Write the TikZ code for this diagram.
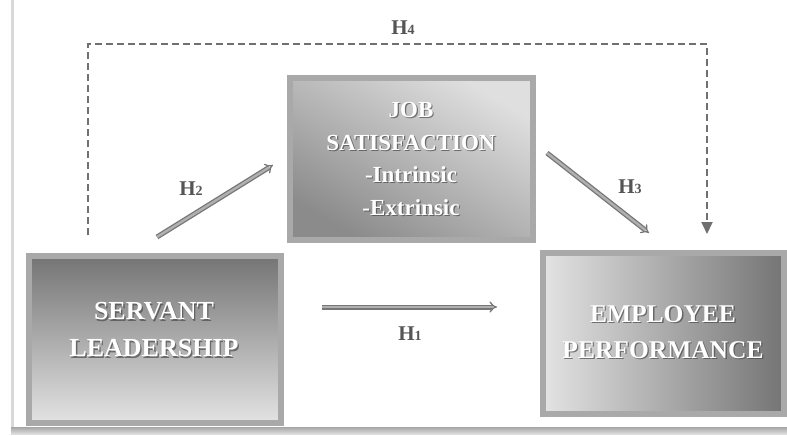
\documentclass[tikz,border=0pt]{standalone}
\usepackage{fontspec}
\setmainfont{Liberation Serif}
\usetikzlibrary{arrows.meta,calc}
\definecolor{bandgray}{HTML}{A9A9A9}
\definecolor{labgray}{HTML}{555555}
\definecolor{dashgray}{HTML}{707070}
\definecolor{arrowout}{HTML}{777777}
\definecolor{arrowin}{HTML}{B0B0B0}
\definecolor{shadowgray}{HTML}{4A4A4A}
\tikzset{
  box/.style={draw=bandgray, line width=6pt, inner sep=0pt},
  whitetxt/.style={text=white, align=center, inner sep=0pt},
  shadowtxt/.style={text=shadowgray, align=center, inner sep=0pt, opacity=0.7},
  bigfont/.style={font=\bfseries\fontsize{26}{37}\selectfont},
  epfont/.style={font=\bfseries\fontsize{25.5}{36}\selectfont},
  jsfont/.style={font=\bfseries\fontsize{23}{32.5}\selectfont},
  hyparrow/.style={draw=arrowout, line width=1.3pt, double=arrowin, double distance=2.4pt, -{Implies}},
  hyplab/.style={text=labgray, font=\bfseries\fontsize{21}{21}\selectfont, anchor=base, inner sep=0pt},
  dasharrow/.style={draw=dashgray, line width=2pt, dash pattern=on 7pt off 4pt, -{Triangle[width=11pt,length=12pt,fill=dashgray]}}
}
\newcommand{\hsub}[1]{H{\fontsize{14}{14}\selectfont #1}}
\begin{document}
\begin{tikzpicture}[x=1pt,y=-1pt]
\useasboundingbox (0,0) rectangle (787,436);
% page shadow
\fill[gray!30] (11,0) rectangle (14,432);
\shade[top color=gray!70, bottom color=gray!25] (11,427) rectangle (787,434);
\fill[white] (14,0) rectangle (787,427);
% boxes
\node[box, minimum width=252pt, minimum height=167pt, top color=gray!55!black!75, bottom color=gray!22] (sl) at (155,339.5) {};
\node[box, minimum width=243pt, minimum height=162pt, top color=gray!25, bottom color=gray!70!black!70, shading angle=-30] (js) at (411.5,159) {};
\node[box, minimum width=241pt, minimum height=161pt, left color=gray!22, right color=gray!55!black!75] (ep) at (663.5,333.5) {};
% box texts
\coordinate (slc) at (154,330);
\coordinate (jsc) at (411,159);
\coordinate (epc) at (663,332);
\node[shadowtxt, bigfont] at ([shift={(1.3,1.3)}]slc) {SERVANT\\LEADERSHIP};
\node[whitetxt, bigfont] (slt) at (slc) {SERVANT\\LEADERSHIP};
\node[shadowtxt, jsfont] at ([shift={(1.2,1.2)}]jsc) {JOB\\SATISFACTION\\-Intrinsic\\-Extrinsic};
\node[whitetxt, jsfont] (jst) at (jsc) {JOB\\SATISFACTION\\-Intrinsic\\-Extrinsic};
\node[shadowtxt, epfont] at ([shift={(1.3,1.3)}]epc) {EMPLOYEE\\PERFORMANCE};
\node[whitetxt, epfont] (ept) at (epc) {EMPLOYEE\\PERFORMANCE};
% arrow end points
\coordinate (h1s) at (322,307);
\coordinate (h1e) at (497,307);
\coordinate (h2s) at (157,237);
\coordinate (h2e) at (273,165);
\coordinate (h3s) at (547,153);
\coordinate (h3e) at (649,233);
\coordinate (d1) at (88,235);
\coordinate (d2) at (88,44);
\coordinate (d3) at (707,44);
\coordinate (d4) at (707,234);
% arrows
\draw[hyparrow] (h1s) -- (h1e);
\draw[hyparrow] (h2s) -- (h2e);
\draw[hyparrow] (h3s) -- (h3e);
\draw[dasharrow] (d1) -- (d2) -- (d3) -- (d4);
% labels
\node[hyplab] (l1) at (410,340) {\hsub{1}};
\node[hyplab] (l2) at (191,195) {\hsub{2}};
\node[hyplab] (l3) at (630,193) {\hsub{3}};
\node[hyplab] (l4) at (403,35) {\hsub{4}};
\end{tikzpicture}
\end{document}
